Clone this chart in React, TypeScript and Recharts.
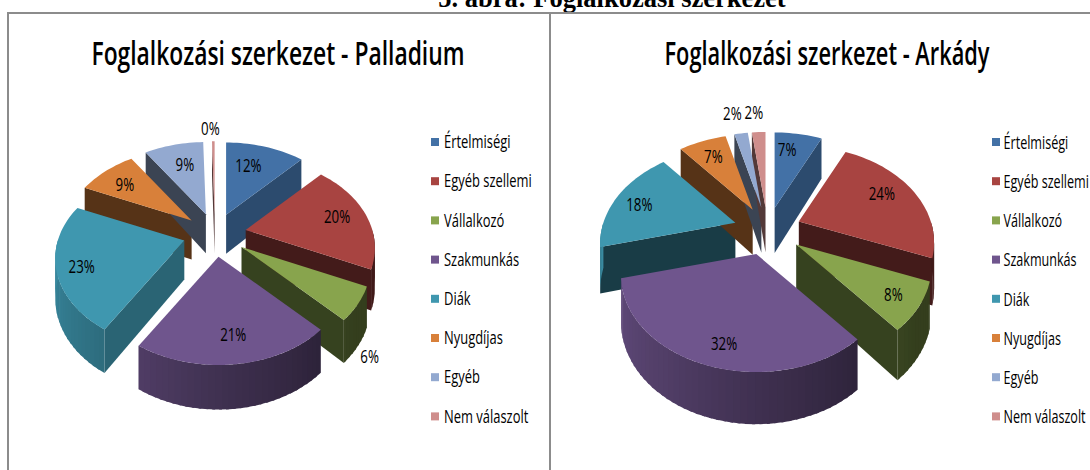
import { PieChart, Pie, Legend } from 'recharts'

const categories = ['Értelmiségi', 'Egyéb szellemi', 'Vállalkozó', 'Szakmunkás', 'Diák', 'Nyugdíjas', 'Egyéb', 'Nem válaszolt']
const palladiumValues = [12, 20, 6, 21, 23, 9, 9, 0.4]
const arkadyValues = [7, 24, 8, 32, 18, 7, 2, 2]
const colors = ['#4371A6', '#A84441', '#88A44D', '#6F558D', '#3F97AF', '#D8803A', '#93A9D0', '#CF8E8C']

// look of the tilted pies
const palladiumView = {
  title: 'Foglalkozási szerkezet - Palladium', titleX: 278, titleLen: 373,
  left: 0, width: 550, cx: 215, cy: 234, radius: 126.5, squash: 0.685, tilt: 0.2, explode: 0.25, depth: 39,
  legendX: 431, legendGap: 13, legendScale: 0.74,
  labelRadius: [0.99, 1.03, 1.456, 0.948, 1.04, 1.04, 0.995, 1.61],
  labelTurn: [-3, -1, 13.6, -1, -2, -1, 1, -1],
}
const arkadyView = {
  title: 'Foglalkozási szerkezet - Arkády', titleX: 277, titleLen: 325,
  left: 550, width: 540, cx: 217.5, cy: 230, radius: 132, squash: 0.697, tilt: 0.22, explode: 0.26, depth: 45,
  legendX: 442, legendGap: 11.5, legendScale: 0.72,
  labelRadius: [1.106, 1.044, 1.023, 1.0, 1.076, 1.098, 1.808, 1.793],
  labelTurn: [-3, -3, 0, -3, -2, 0, -1, -1],
}

type View = typeof palladiumView

const rad = (d: number) => (d * Math.PI) / 180

function shade(hex: string, f: number) {
  const n = parseInt(hex.slice(1), 16)
  const r = Math.round(((n >> 16) & 255) * f)
  const g = Math.round(((n >> 8) & 255) * f)
  const b = Math.round((n & 255) * f)
  return `rgb(${r},${g},${b})`
}

// light on the outer rim, by clockwise angle from the top
function rimLight(a: number) {
  const stops = [[90, 0.38], [130, 0.38], [175, 0.55], [212, 0.72], [270, 0.92]]
  for (let i = 1; i < stops.length; i++) {
    if (a <= stops[i][0]) {
      const t = (a - stops[i - 1][0]) / (stops[i][0] - stops[i - 1][0])
      return stops[i - 1][1] + t * (stops[i][1] - stops[i - 1][1])
    }
  }
  return 0.92
}

function sideLight(normal: number) {
  if (normal <= 135) return 0.66
  if (normal >= 165) return 0.4
  return 0.66 - ((normal - 135) / 30) * 0.26
}

// plane of the pie -> screen offset from the centre, with a bit of perspective
function project(view: View, p: any, u: number, v: number, down = 0) {
  const s = 1 / (1 + view.tilt * v)
  return {
    x: p.outerRadius * u * s,
    y: -p.outerRadius * view.squash * v * s + down * view.depth * Math.pow(s, 0.6),
  }
}

function sliceGeometry(view: View, p: any) {
  const a0 = 90 - p.startAngle
  const a1 = 90 - p.endAngle
  const mid = (a0 + a1) / 2
  const ou = view.explode * Math.sin(rad(mid))
  const ov = view.explode * Math.cos(rad(mid))
  const shift = project(view, p, ou, ov)
  const at = (u: number, v: number, down: number) => {
    const q = project(view, p, u, v, down)
    return { x: p.cx + shift.x + q.x, y: p.cy + shift.y + q.y }
  }
  const rim = (a: number, down = 0) => at(Math.sin(rad(a)), Math.cos(rad(a)), down)
  const apex = (down = 0) => at(0, 0, down)
  return { a0, a1, mid, rim, apex, back: ov > 0 }
}

const toPath = (pts: { x: number; y: number }[]) =>
  'M' + pts.map((q) => `${q.x.toFixed(1)},${q.y.toFixed(1)}`).join('L') + 'Z'

function Top(view: View, p: any) {
  const g = sliceGeometry(view, p)
  const pts = [g.apex()]
  const n = Math.max(2, Math.ceil((g.a1 - g.a0) / 2))
  for (let i = 0; i <= n; i++) pts.push(g.rim(g.a0 + ((g.a1 - g.a0) * i) / n))
  return <path d={toPath(pts)} fill={p.fill} />
}

function Walls(view: View, p: any, backPass: boolean) {
  const g = sliceGeometry(view, p)
  if (g.back !== backPass) return <g />
  const faces = []
  // only the cut faces that look towards the viewer
  const startNormal = (g.a0 - 90 + 360) % 360
  const endNormal = (g.a1 + 90) % 360
  if (Math.cos(rad(startNormal)) < 0) {
    faces.push(<path key="s" d={toPath([g.apex(), g.rim(g.a0), g.rim(g.a0, 1), g.apex(1)])} fill={shade(p.fill, sideLight(startNormal))} />)
  }
  if (Math.cos(rad(endNormal)) < 0) {
    faces.push(<path key="e" d={toPath([g.apex(), g.rim(g.a1), g.rim(g.a1, 1), g.apex(1)])} fill={shade(p.fill, sideLight(endNormal))} />)
  }
  const from = Math.max(g.a0, 90)
  const to = Math.min(g.a1, 270)
  const strips = []
  for (let a = from; a < to; a += 2.5) {
    const b = Math.min(a + 3.5, to)
    strips.push(
      <path key={a} d={toPath([g.rim(a), g.rim(b), g.rim(b, 1), g.rim(a, 1)])} fill={shade(p.fill, rimLight(a + 1.25))} />
    )
  }
  return (
    <g>
      {faces}
      {strips}
    </g>
  )
}

function renderLabel(view: View, p: any) {
  const turn = view.labelTurn[p.index]
  const r = view.labelRadius[p.index]
  const a = 90 - p.midAngle + turn
  const pos = project(view, p, r * Math.sin(rad(a)), r * Math.cos(rad(a)))
  return (
    <text
      key={p.index}
      transform={`translate(${p.cx + pos.x},${p.cy + pos.y}) scale(0.74,1)`}
      textAnchor="middle"
      dominantBaseline="central"
      fontFamily="Open Sans"
      fontWeight={500}
      fontSize={18}
      fill="#000"
    >
      {Math.round(p.percent * 100)}%
    </text>
  )
}

function LegendBox({ view }: { view: View }) {
  return (
    <svg width={108} height={330} style={{ display: 'block', overflow: 'visible' }}>
      {categories.map((name, i) => (
        <g key={name} transform={`translate(0,${11 + i * 39.2})`}>
          <rect x={0} y={-4} width={8} height={8} fill={colors[i]} />
          <text
            transform={`translate(${view.legendGap},0) scale(${view.legendScale},1)`}
            dominantBaseline="central"
            fontFamily="Open Sans"
            fontWeight={500}
            fontSize={17.5}
            fill="#000"
          >
            {name}
          </text>
        </g>
      ))}
    </svg>
  )
}

function ShoppingPie({ view, values }: { view: View; values: number[] }) {
  const table = categories.map((name, i) => ({ name, value: values[i], fill: colors[i] }))
  const common = {
    data: table,
    dataKey: 'value',
    nameKey: 'name',
    cx: view.cx,
    cy: view.cy,
    outerRadius: view.radius,
    startAngle: 90,
    endAngle: -270,
    stroke: 'none',
    isAnimationActive: false,
  }
  return (
    <div style={{ position: 'absolute', left: view.left, top: 0 }}>
      <PieChart width={view.width} height={470} margin={{ top: 0, right: 0, bottom: 0, left: 0 }}>
        <text
          x={view.titleX}
          y={65}
          textAnchor="middle"
          fontFamily="Open Sans"
          fontWeight={600}
          fontSize={32}
          textLength={view.titleLen}
          lengthAdjust="spacingAndGlyphs"
          fill="#000"
        >
          {view.title}
        </text>
        <Pie {...common} legendType="none" shape={(p: any) => Walls(view, p, true)} />
        <Pie {...common} legendType="none" shape={(p: any) => Walls(view, p, false)} />
        <Pie
          {...common}
          shape={(p: any) => Top(view, p)}
          labelLine={false}
          label={(p: any) => renderLabel(view, p)}
        />
        <Legend
          content={<LegendBox view={view} />}
          wrapperStyle={{ position: 'absolute', left: view.legendX, top: 131, width: 108, bottom: 'auto', right: 'auto' }}
        />
      </PieChart>
    </div>
  )
}

export default function App() {
  return (
    <div style={{ position: 'absolute', left: 0, top: 0, width: 1090, height: 470, overflow: 'hidden', background: '#fff' }}>
      <div
        style={{
          position: 'absolute', left: 0, width: 1224, top: -14, textAlign: 'center', whiteSpace: 'nowrap',
          fontFamily: 'Liberation Serif', fontWeight: 'bold', fontSize: 26.5, lineHeight: '24px', color: '#000',
        }}
      >
        5. ábra: Foglalkozási szerkezet
      </div>
      <div style={{ position: 'absolute', left: 7, top: 12, width: 544, height: 470, border: '2px solid #8C8C8C', boxSizing: 'border-box' }} />
      <div style={{ position: 'absolute', left: 549, top: 12, width: 600, height: 470, border: '2px solid #8C8C8C', boxSizing: 'border-box' }} />
      <ShoppingPie view={palladiumView} values={palladiumValues} />
      <ShoppingPie view={arkadyView} values={arkadyValues} />
    </div>
  )
}
